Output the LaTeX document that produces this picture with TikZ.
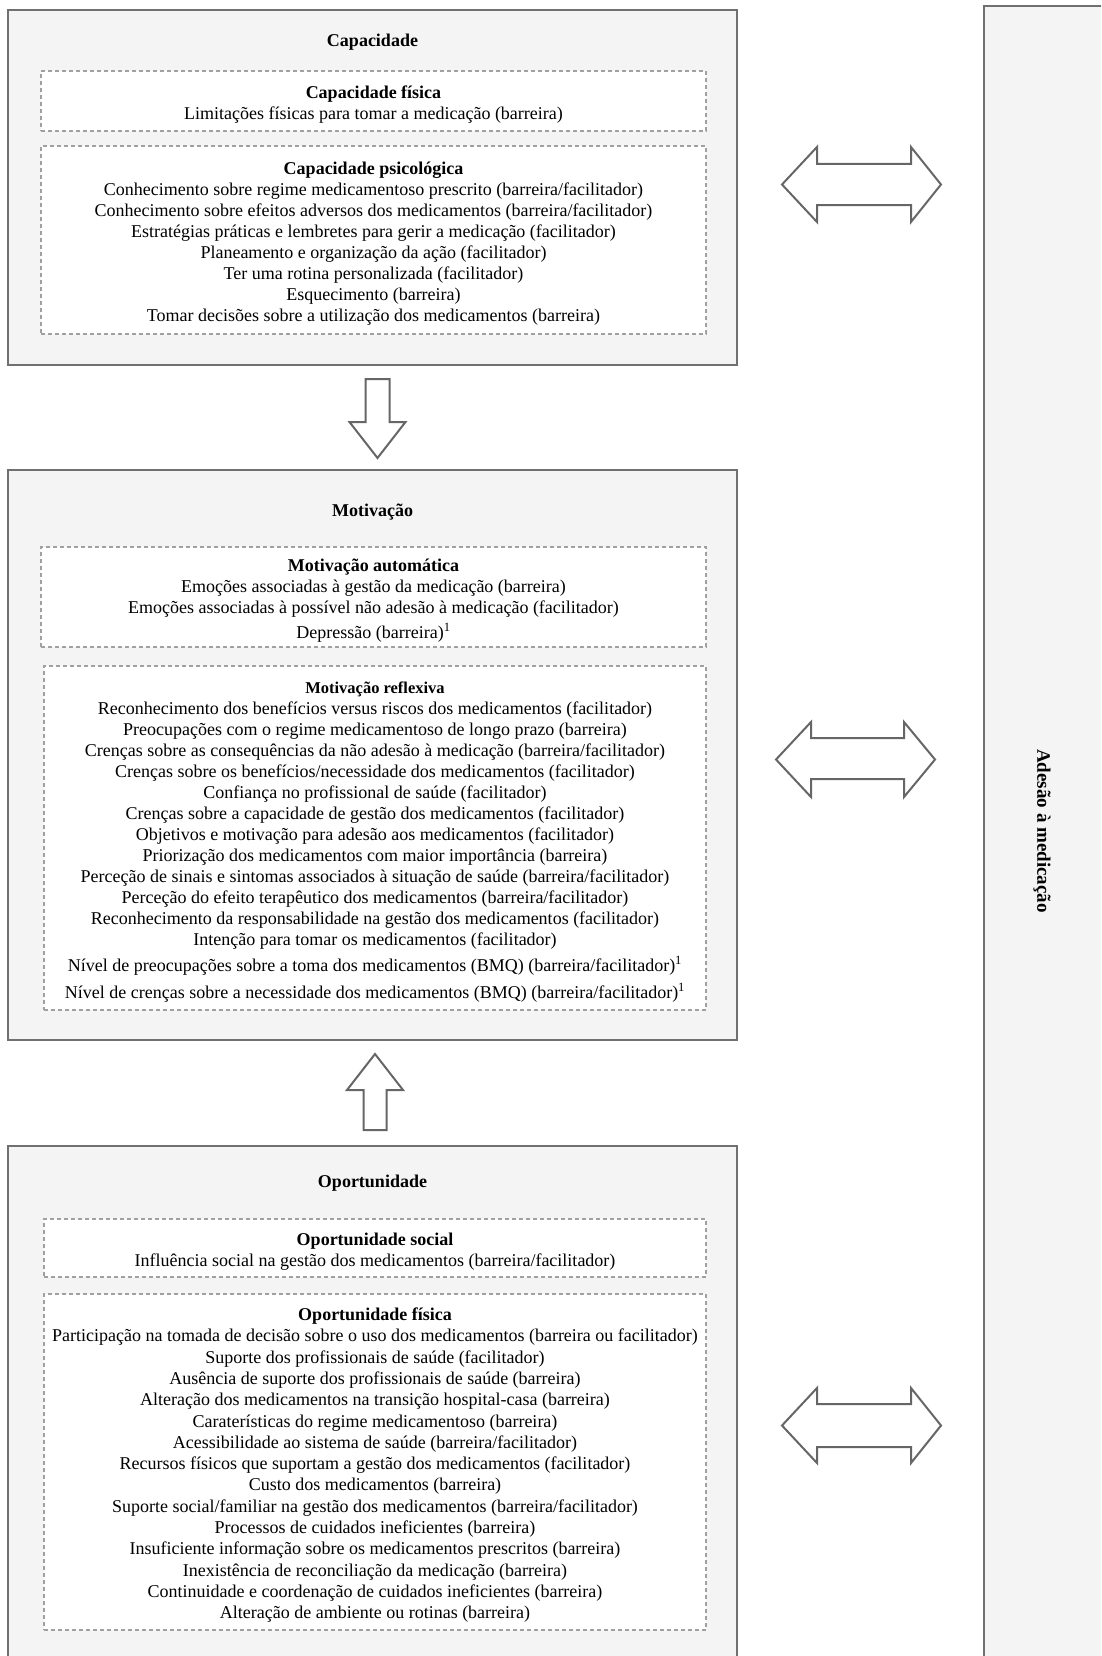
\documentclass[tikz,border=0pt]{standalone}
\usepackage{fontspec}
\setmainfont{Liberation Serif}
\usetikzlibrary{positioning}

\definecolor{boxfill}{HTML}{F4F4F4}
\definecolor{boxline}{HTML}{707070}
\definecolor{dashline}{HTML}{A0A0A0}
\definecolor{arrowline}{HTML}{666666}

\newcommand\boxtitle[1]{\rule{0pt}{19pt}\textbf{#1}}

\tikzset{
  outerbox/.style={draw=boxline, line width=1.5pt, fill=boxfill, inner sep=0pt},
  dashbox/.style={draw=dashline, line width=1.2pt, dash pattern=on 4pt off 3pt,
    fill=white, align=center, inner sep=0pt, font=\fontsize{18}{21}\selectfont},
  heading/.style={font=\fontsize{18}{21}\selectfont\bfseries},
  blockarrow/.style={draw=arrowline, line width=2pt, fill=white, line join=miter},
}

\begin{document}
\begin{tikzpicture}[x=1pt,y=-1pt]
\useasboundingbox (0,0) rectangle (1101,1656);
\clip (0,0) rectangle (1101,1656);

% outer boxes
\node[outerbox, minimum width=729pt, minimum height=355pt] (cap) at (372.5,187.5) {};
\node[outerbox, minimum width=729pt, minimum height=570pt] (mot) at (372.5,755) {};
\node[outerbox, minimum width=729pt, minimum height=554pt] (opo) at (372.5,1423) {};
\node[outerbox, minimum width=136pt, minimum height=1694pt] (ades) at (1052,853) {};

% titles
\node[heading] (capT) at (372.5,42) {Capacidade};
\node[heading] (motT) at (372.5,512) {Motivação};
\node[heading] (opoT) at (372.5,1183) {Oportunidade};
\node[heading, font=\fontsize{19}{21}\selectfont\bfseries, rotate=-90] (adesT) at (1042,831) {Adesão à medicação};

% Capacidade
\node[dashbox, minimum width=665pt, minimum height=60pt] (capfis) at (373.5,101) {%
\boxtitle{Capacidade física}\\
Limitações físicas para tomar a medicação (barreira)};
\node[dashbox, minimum width=665pt, minimum height=188pt] (cappsi) at (373.5,240) {%
\boxtitle{Capacidade psicológica}\\
Conhecimento sobre regime medicamentoso prescrito (barreira/facilitador)\\
Conhecimento sobre efeitos adversos dos medicamentos (barreira/facilitador)\\
Estratégias práticas e lembretes para gerir a medicação (facilitador)\\
Planeamento e organização da ação (facilitador)\\
Ter uma rotina personalizada (facilitador)\\
Esquecimento (barreira)\\
Tomar decisões sobre a utilização dos medicamentos (barreira)};

% Motivação
\node[dashbox, minimum width=665pt, minimum height=100pt] (motaut) at (373.5,597) {%
\boxtitle{Motivação automática}\\
Emoções associadas à gestão da medicação (barreira)\\
Emoções associadas à possível não adesão à medicação (facilitador)\\[4pt]
Depressão (barreira)\textsuperscript{1}};
\node[dashbox, minimum width=662pt, minimum height=344pt] (motref) at (375,838) {%
\rule{0pt}{19pt}{\fontsize{16.5}{21}\selectfont\bfseries Motivação reflexiva}\\
Reconhecimento dos benefícios versus riscos dos medicamentos (facilitador)\\
Preocupações com o regime medicamentoso de longo prazo (barreira)\\
Crenças sobre as consequências da não adesão à medicação (barreira/facilitador)\\
Crenças sobre os benefícios/necessidade dos medicamentos (facilitador)\\
Confiança no profissional de saúde (facilitador)\\
Crenças sobre a capacidade de gestão dos medicamentos (facilitador)\\
Objetivos e motivação para adesão aos medicamentos (facilitador)\\
Priorização dos medicamentos com maior importância (barreira)\\
Perceção de sinais e sintomas associados à situação de saúde (barreira/facilitador)\\
Perceção do efeito terapêutico dos medicamentos (barreira/facilitador)\\
Reconhecimento da responsabilidade na gestão dos medicamentos (facilitador)\\
Intenção para tomar os medicamentos (facilitador)\\[5pt]
Nível de preocupações sobre a toma dos medicamentos (BMQ) (barreira/facilitador)\textsuperscript{1}\\[6pt]
Nível de crenças sobre a necessidade dos medicamentos (BMQ) (barreira/facilitador)\textsuperscript{1}};

% Oportunidade
\node[dashbox, minimum width=662pt, minimum height=58pt] (oposoc) at (375,1248) {%
\boxtitle{Oportunidade social}\\
Influência social na gestão dos medicamentos (barreira/facilitador)};
\node[dashbox, minimum width=662pt, minimum height=336pt,
  font=\fontsize{18}{21.3}\selectfont] (opofis) at (375,1462) {%
\boxtitle{Oportunidade física}\\
Participação na tomada de decisão sobre o uso dos medicamentos (barreira ou facilitador)\\
Suporte dos profissionais de saúde (facilitador)\\
Ausência de suporte dos profissionais de saúde (barreira)\\
Alteração dos medicamentos na transição hospital-casa (barreira)\\
Caraterísticas do regime medicamentoso (barreira)\\
Acessibilidade ao sistema de saúde (barreira/facilitador)\\
Recursos físicos que suportam a gestão dos medicamentos (facilitador)\\
Custo dos medicamentos (barreira)\\
Suporte social/familiar na gestão dos medicamentos (barreira/facilitador)\\
Processos de cuidados ineficientes (barreira)\\
Insuficiente informação sobre os medicamentos prescritos (barreira)\\
Inexistência de reconciliação da medicação (barreira)\\
Continuidade e coordenação de cuidados ineficientes (barreira)\\
Alteração de ambiente ou rotinas (barreira)};

% block arrows
\draw[blockarrow] (365.5,379) -- (389.5,379) -- (389.5,422) -- (405.5,422) -- (377.5,458)
  -- (349.5,422) -- (365.5,422) -- cycle;
\draw[blockarrow] (363.5,1130) -- (386.5,1130) -- (386.5,1090) -- (403,1090) -- (375,1054)
  -- (347,1090) -- (363.5,1090) -- cycle;
\draw[blockarrow] (782,184.5) -- (817,147) -- (817,164) -- (911,164) -- (911,147) -- (941,184.5)
  -- (911,222) -- (911,205) -- (817,205) -- (817,222) -- cycle;
\draw[blockarrow] (776,759.5) -- (811,722) -- (811,738) -- (904,738) -- (904,722) -- (935,759.5)
  -- (904,797) -- (904,779) -- (811,779) -- (811,797) -- cycle;
\draw[blockarrow] (782,1425.5) -- (817,1388) -- (817,1404) -- (911,1404) -- (911,1388) -- (941,1425.5)
  -- (911,1463) -- (911,1447) -- (817,1447) -- (817,1463) -- cycle;
\end{tikzpicture}
\end{document}
